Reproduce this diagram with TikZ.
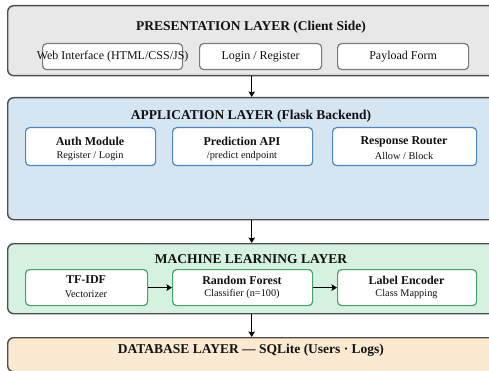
\documentclass[tikz,border=0pt]{standalone}
\usepackage{fontspec}
\setmainfont{Liberation Serif}
\usetikzlibrary{arrows.meta}

\definecolor{layerline}{HTML}{4D4D4D}
\definecolor{presfill}{HTML}{E8E8E8}
\definecolor{presedge}{HTML}{7A7A7A}
\definecolor{appfill}{HTML}{D5E5F2}
\definecolor{appedge}{HTML}{4F86BD}
\definecolor{mlfill}{HTML}{D4F2DF}
\definecolor{mledge}{HTML}{46A36A}
\definecolor{dbfill}{HTML}{FCE9D2}
\definecolor{ink}{HTML}{111111}

\begin{document}
\begin{tikzpicture}[x=1pt,y=-1pt,
  layer/.style={draw=layerline, line width=1.4pt, rounded corners=6pt,
    inner sep=0pt, anchor=north west},
  subbox/.style={fill=white, line width=1.2pt, rounded corners=4pt,
    inner sep=0pt, anchor=north west},
  layertitle/.style={text=ink, font=\fontsize{13.5}{16}\selectfont\bfseries, inner sep=0pt},
  boxtext/.style={text=ink, font=\fontsize{12}{14}\selectfont, inner sep=0pt},
  boxtitle/.style={text=ink, font=\fontsize{12}{14}\selectfont\bfseries, inner sep=0pt},
  boxsub/.style={text=ink, font=\fontsize{10.3}{12}\selectfont, inner sep=0pt},
  arr/.style={draw=black, line width=1.3pt, -{Stealth[length=5.5pt,width=6.5pt,inset=1pt]}}
]
\useasboundingbox (0,0) rectangle (489,371);
\clip (0,0) rectangle (489,371);

% presentation layer
\node[layer, fill=presfill, minimum width=488pt, minimum height=70pt] (pres) at (7,5) {};
\node[layertitle] (prestitle) at (251,27) {PRESENTATION LAYER (Client Side)};
\node[subbox, draw=presedge, minimum width=140pt, minimum height=26pt] (web) at (42,43) {};
\node[boxtext] (webtext) at (web.center) {Web Interface (HTML/CSS/JS)};
\node[subbox, draw=presedge, minimum width=122pt, minimum height=26pt] (login) at (199,43) {};
\node[boxtext] (logintext) at (login.center) {Login / Register};
\node[subbox, draw=presedge, minimum width=131pt, minimum height=26pt] (payload) at (337,43) {};
\node[boxtext] (payloadtext) at (payload.center) {Payload Form};

% application layer
\node[layer, fill=appfill, minimum width=488pt, minimum height=122pt] (app) at (7,97) {};
\node[layertitle] (apptitle) at (251,116.5) {APPLICATION LAYER (Flask Backend)};
\node[subbox, draw=appedge, minimum width=130pt, minimum height=38pt] (auth) at (25,127) {};
\node[boxtitle] at (90,141.5) {Auth Module};
\node[boxsub] at (90,156) {Register / Login};
\node[subbox, draw=appedge, minimum width=140pt, minimum height=38pt] (pred) at (172,127) {};
\node[boxtitle] at (242,141.5) {Prediction API};
\node[boxsub] at (242,156) {/predict endpoint};
\node[subbox, draw=appedge, minimum width=144pt, minimum height=38pt] (router) at (332,127) {};
\node[boxtitle] at (404,141.5) {Response Router};
\node[boxsub] at (404,156) {Allow / Block};

% machine learning layer
\node[layer, fill=mlfill, minimum width=488pt, minimum height=70pt] (ml) at (7,243) {};
\node[layertitle] (mltitle) at (251,259.5) {MACHINE LEARNING LAYER};
\node[subbox, draw=mledge, minimum width=122pt, minimum height=36pt] (tfidf) at (25,269) {};
\node[boxtitle] at (86,280) {TF-IDF};
\node[boxsub] at (86,294) {Vectorizer};
\node[subbox, draw=mledge, minimum width=140pt, minimum height=36pt] (rf) at (172,269) {};
\node[boxtitle] at (242,280) {Random Forest};
\node[boxsub] at (242,294) {Classifier (n=100)};
\node[subbox, draw=mledge, minimum width=139pt, minimum height=36pt] (enc) at (337,269) {};
\node[boxtitle] at (406.5,280) {Label Encoder};
\node[boxsub] at (406.5,294) {Class Mapping};

% database layer
\node[layer, fill=dbfill, minimum width=488pt, minimum height=34pt] (db) at (7,337) {};
\node[layertitle] (dbtitle) at (251,350) {DATABASE LAYER — SQLite (Users · Logs)};

% connectors
\draw[arr] (pres.south) -- (app.north);
\draw[arr] (app.south) -- (ml.north);
\draw[arr] (ml.south) -- (db.north);
\draw[arr] (tfidf.east) -- (rf.west);
\draw[arr] (rf.east) -- (enc.west);
\end{tikzpicture}
\end{document}
